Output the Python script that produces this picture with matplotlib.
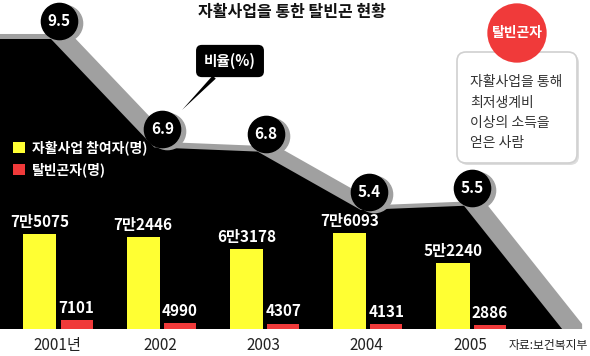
import matplotlib
matplotlib.use("Agg")
import matplotlib.pyplot as plt
from matplotlib import transforms
from matplotlib.patches import Polygon, Patch, FancyBboxPatch

plt.rcParams['font.family'] = ['Noto Sans CJK KR', 'DejaVu Sans']

# -------------------------
# datos
# -------------------------
years = ["2001년", "2002", "2003", "2004", "2005"]
ratio = [9.5, 6.9, 6.8, 5.4, 5.5]
participants = [75075, 72446, 63178, 76093, 52240]
escaped = [7101, 4990, 4307, 4131, 2886]
participant_labels = ["7만5075", "7만2446", "6만3178", "7만6093", "5만2240"]
escaped_labels = ["7101", "4990", "4307", "4131", "2886"]
info_lines = ["자활사업을 통해", "최저생계비", "이상의 소득을", "얻은 사람"]

YELLOW = "#ffff33"
RED = "#f03a3a"
GRAY = "#a0a0a0"

W, H = 590, 356
fig = plt.figure(figsize=(W / 100, H / 100), dpi=100)

def fx(x):
    return x / W

def fy(y):
    return 1 - y / H

ax = fig.add_axes([0, 27 / H, 1, 329 / H])
ax.set_xlim(-0.552, 5.162)
ax.set_ylim(2.545, 10.435)
for s in ax.spines.values():
    s.set_visible(False)
ax.set_yticks([])
ax.set_xticks(range(len(years)), years)
ax.tick_params(axis="x", length=0, pad=6, labelsize=11, colors="#222222")

# -------------------------
# area de la razon (sombra gris + area negra)
# -------------------------
base = ax.get_ylim()[0]
tail = len(ratio) - 1 + 0.95
pts = [(-1, ratio[0])] + [(i, r) for i, r in enumerate(ratio)]
pts += [(tail, base), (tail, 0), (-1, 0)]

gray_tr = transforms.offset_copy(ax.transData, fig=fig, x=14, y=5, units="dots")
black_tr = transforms.offset_copy(ax.transData, fig=fig, x=-6, y=0, units="dots")
ax.add_patch(Polygon(pts, closed=True, fc=GRAY, ec="none", transform=gray_tr, zorder=1))
ax.add_patch(Polygon(pts, closed=True, fc="black", ec="none", transform=black_tr, zorder=2))

# circulos con valores
xs = list(range(len(ratio)))
shadow_tr = transforms.offset_copy(ax.transData, fig=fig, x=7, y=16, units="dots")
circ_tr = transforms.offset_copy(ax.transData, fig=fig, x=2, y=18, units="dots")
ax.scatter(xs, ratio, s=680, color=GRAY, transform=shadow_tr, zorder=3, clip_on=False)
ax.scatter(xs, ratio, s=680, color="black", transform=circ_tr, zorder=4, clip_on=False)
for x, r in zip(xs, ratio):
    ax.text(x, r, f"{r}", transform=circ_tr, ha="center", va="center",
            color="white", fontsize=11, fontweight="bold", zorder=5)

# -------------------------
# barras
# -------------------------
ax2 = ax.twinx()
ax2.set_ylim(0, 260000)
ax2.set_yticks([])
for s in ax2.spines.values():
    s.set_visible(False)
b1 = ax2.bar([x - 0.165 for x in xs], participants, width=0.32, color=YELLOW)
b2 = ax2.bar([x + 0.19 for x in xs], escaped, width=0.31, color=RED)
ax2.bar_label(b1, labels=participant_labels, padding=3, color="white",
              fontsize=11, fontweight="bold")
ax2.bar_label(b2, labels=escaped_labels, padding=3, color="white",
              fontsize=11, fontweight="bold")

handles = [Patch(fc=YELLOW, ec="none"), Patch(fc=RED, ec="none")]
leg = ax2.legend(handles, ["자활사업 참여자(명)", "탈빈곤자(명)"], loc="upper left",
                 bbox_to_anchor=(fx(13), fy(140)), bbox_transform=fig.transFigure,
                 frameon=False, borderpad=0, borderaxespad=0, handlelength=0.85,
                 handleheight=0.85, handletextpad=0.5, labelspacing=0.55,
                 prop={"size": 10, "weight": "bold"})
for t in leg.get_texts():
    t.set_color("white")

# -------------------------
# textos
# -------------------------
fig.text(fx(292), fy(12), "자활사업을 통한 탈빈곤 현황", ha="center", va="center",
         fontsize=11.5, fontweight="bold", color="#111111")

ax2.annotate("비율(%)", xy=(182, H - 110), xycoords="figure pixels",
             xytext=(230, H - 61), textcoords="figure pixels",
             ha="center", va="center", color="white", fontsize=10.5, fontweight="bold",
             bbox=dict(boxstyle="round,pad=0.55,rounding_size=0.4", fc="black", ec="none"),
             arrowprops=dict(arrowstyle="wedge,tail_width=0.3", fc="black", ec="none",
                             shrinkA=0, shrinkB=0),
             zorder=6)

# caja de definicion
fig.patches.append(FancyBboxPatch((4.59, 1.91), 1.20, 1.11,
                                  boxstyle="round,pad=0,rounding_size=0.09",
                                  fc="#dddddd", ec="none",
                                  transform=fig.dpi_scale_trans, zorder=1))
fig.patches.append(FancyBboxPatch((4.57, 1.93), 1.20, 1.11,
                                  boxstyle="round,pad=0,rounding_size=0.09",
                                  fc="white", ec="#d0d0d0", lw=1.2,
                                  transform=fig.dpi_scale_trans, zorder=2))
for k, line in enumerate(info_lines):
    fig.text(fx(470), fy(82 + 20.5 * k), line, ha="left", va="center",
             fontsize=10, color="#333333", zorder=3)

fig.text(fx(517), fy(33), "탈빈곤자", ha="center", va="center", color="white",
         fontsize=10, fontweight="bold", zorder=4,
         bbox=dict(boxstyle="circle,pad=0.3", fc=RED, ec="none"))

fig.text(fx(588), fy(345), "자료:보건복지부", ha="right", va="center",
         fontsize=8.5, color="#222222")

fig.savefig("out.png", dpi=100)
